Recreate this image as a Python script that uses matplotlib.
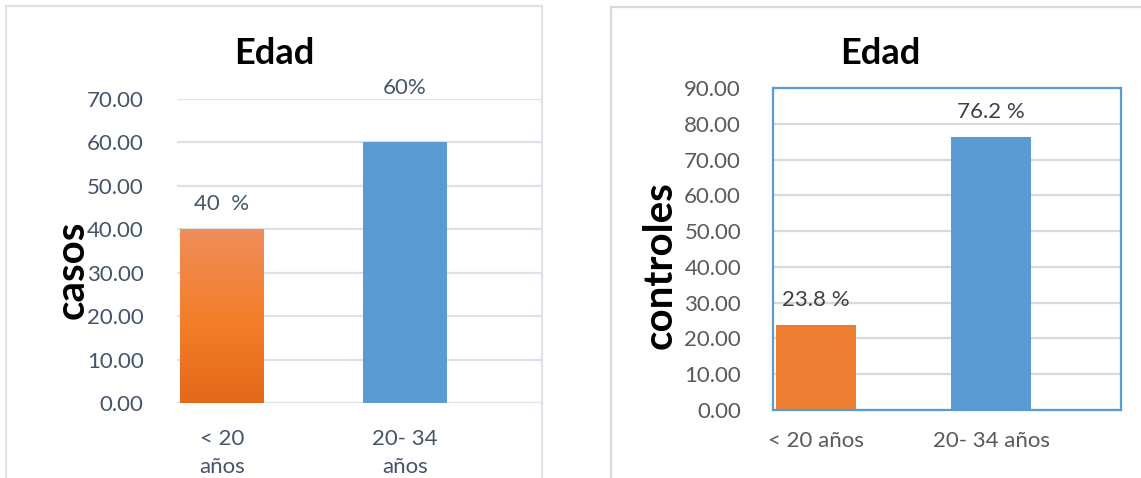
import numpy as np
import matplotlib
matplotlib.use("Agg")
import matplotlib.pyplot as plt
from matplotlib.patches import Rectangle
from matplotlib.colors import LinearSegmentedColormap

plt.rcParams["font.family"] = ["Lato", "DejaVu Sans"]

W, H = 1141, 478

# casos (left) and controles (right), percentages by age group
casos_cats = ["< 20\naños", "20- 34\naños"]
casos_vals = [40.0, 60.0]
casos_labels = ["40  %", "60%"]

controles_cats = ["< 20 años", "20- 34 años"]
controles_vals = [23.8, 76.2]
controles_labels = ["23.8 %", "76.2 %"]

casos_ticks = [0, 10, 20, 30, 40, 50, 60, 70]
controles_ticks = [0, 10, 20, 30, 40, 50, 60, 70, 80, 90]

BLUE = "#5B9BD5"
ORANGE = "#ED7D31"
SLATE = "#44546A"
GRAY = "#595959"
FS = 16


def px_rect(x0, y0, x1, y1):
    """Pixel box (top-left origin) -> figure fraction rect."""
    return [x0 / W, 1 - y1 / H, (x1 - x0) / W, (y1 - y0) / H]


fig = plt.figure(figsize=(W / 100, H / 100), dpi=100)
fig.patch.set_facecolor("white")

# chart frames
fig.add_artist(Rectangle((6 / W, -0.1), (542 - 6) / W, 1.1 - 6 / H,
                         transform=fig.transFigure, fill=False,
                         edgecolor="#DEE3EA", lw=1.6))
fig.add_artist(Rectangle((611 / W, -0.1), 0.6, 1.1 - 7 / H,
                         transform=fig.transFigure, fill=False,
                         edgecolor="#D9D9D9", lw=1.6))

# ---------------- left: casos ----------------
ax1 = fig.add_axes(px_rect(177, 99, 541, 403))
x1 = np.arange(len(casos_vals))
bars1 = ax1.bar(x1, casos_vals, width=0.459, color=[ORANGE, BLUE], zorder=3)

# orange bar has a vertical gradient fill
grad = LinearSegmentedColormap.from_list("og", ["#E36919", "#F47F2B", "#EF8D5A"])
b = bars1[0]
img = ax1.imshow(np.linspace(0, 1, 256).reshape(-1, 1), cmap=grad, origin="lower",
                 aspect="auto", zorder=4,
                 extent=[b.get_x(), b.get_x() + b.get_width(), 0, b.get_height()])
img.set_clip_path(b)

ax1.set_xlim(-0.246, 1.743)
ax1.set_ylim(0, 70)
ax1.set_yticks(casos_ticks)
ax1.set_yticklabels([f"{t:.2f}" for t in casos_ticks])
ax1.set_xticks(x1)
ax1.set_xticklabels(casos_cats, linespacing=1.45)
ax1.tick_params(axis="y", length=0, pad=24, labelsize=FS, labelcolor=SLATE)
ax1.tick_params(axis="x", length=0, pad=19, labelsize=FS, labelcolor=SLATE)
ax1.grid(axis="y", color="#DDE2E8", lw=1.6, zorder=0)
ax1.set_axisbelow(True)
for s in ax1.spines.values():
    s.set_visible(False)

label_off1 = [5.9, 12.6]
for xi, v, lab, off in zip(x1, casos_vals, casos_labels, label_off1):
    ax1.text(xi, v + off, lab, ha="center", va="center", fontsize=FS,
             color=SLATE, clip_on=False)

fig.text(274 / W, 1 - 53 / H, "Edad", ha="center", va="center",
         fontsize=26, fontweight="bold", color="black")
fig.text(72 / W, 1 - 270 / H, "casos", ha="center", va="center", rotation=90,
         fontsize=29, fontweight="bold", color="black")

# ---------------- right: controles ----------------
ax2 = fig.add_axes(px_rect(773, 88, 1121, 410))
x2 = np.arange(len(controles_vals))
ax2.bar(x2, controles_vals, width=0.457, color=[ORANGE, BLUE], zorder=3)
ax2.set_xlim(-0.246, 1.743)
ax2.set_ylim(0, 90)
ax2.set_yticks(controles_ticks)
ax2.set_yticklabels([f"{t:.2f}" for t in controles_ticks])
ax2.set_xticks(x2)
ax2.set_xticklabels(controles_cats)
ax2.tick_params(axis="y", length=0, pad=23, labelsize=FS, labelcolor=GRAY)
ax2.tick_params(axis="x", length=0, pad=15, labelsize=FS, labelcolor=GRAY)
ax2.grid(axis="y", color="#D9D9D9", lw=1.6, zorder=0)
ax2.set_axisbelow(True)
for s in ax2.spines.values():
    s.set_color(BLUE)
    s.set_linewidth(1.6)
    s.set_zorder(5)

label_off2 = [6.9, 7.0]
for xi, v, lab, off in zip(x2, controles_vals, controles_labels, label_off2):
    ax2.text(xi, v + off, lab, ha="center", va="center", fontsize=FS,
             color="#404040", clip_on=False, zorder=6)

fig.text(880 / W, 1 - 53 / H, "Edad", ha="center", va="center",
         fontsize=26, fontweight="bold", color="black")
fig.text(660 / W, 1 - 265 / H, "controles", ha="center", va="center", rotation=90,
         fontsize=29, fontweight="bold", color="black")

fig.savefig("out.png", dpi=100)
